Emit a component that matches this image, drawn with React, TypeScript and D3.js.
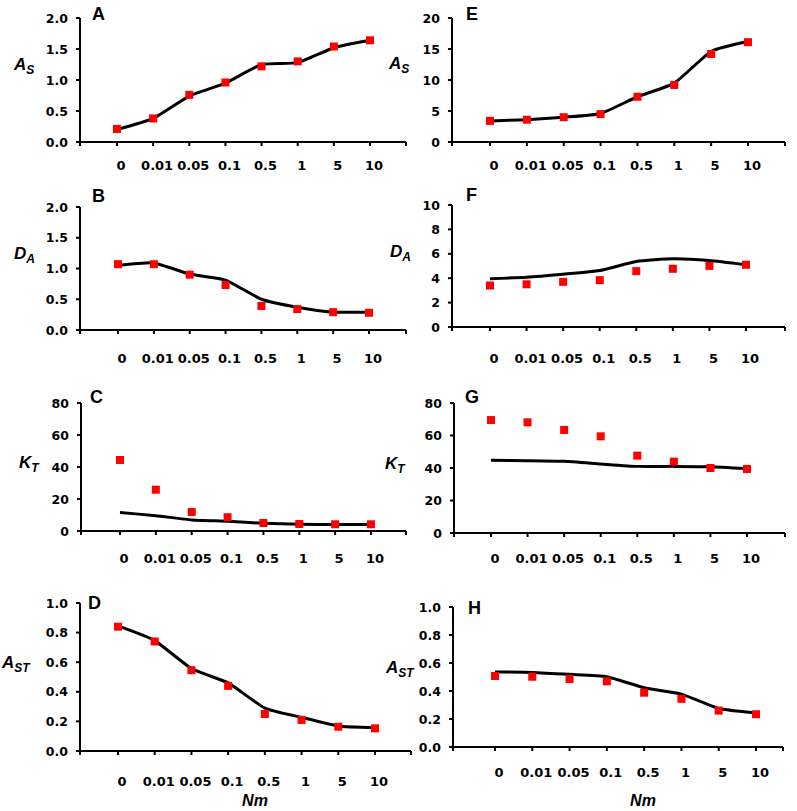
import React from "react";
import * as d3 from "d3";

const categories = ["0", "0.01", "0.05", "0.1", "0.5", "1", "5", "10"];

// Panel A (A_S, left)
const aSquares = [0.21, 0.38, 0.76, 0.96, 1.22, 1.3, 1.54, 1.64];
const aLine = [0.2, 0.38, 0.74, 0.95, 1.25, 1.28, 1.52, 1.64];
// Panel B (D_A, left)
const bSquares = [1.07, 1.07, 0.9, 0.73, 0.39, 0.34, 0.29, 0.28];
const bLine = [1.05, 1.09, 0.91, 0.81, 0.5, 0.37, 0.29, 0.29];
// Panel C (K_T, left)
const cSquares = [44.4, 25.8, 11.9, 8.6, 5.0, 4.4, 4.2, 4.2];
const cLine = [11.5, 9.6, 6.9, 6.1, 4.8, 4.2, 4.0, 4.0];
// Panel D (A_ST, left)
const dSquares = [0.84, 0.74, 0.546, 0.44, 0.25, 0.21, 0.164, 0.153];
const dLine = [0.845, 0.746, 0.557, 0.46, 0.29, 0.227, 0.169, 0.157];
// Panel E (A_S, right)
const eSquares = [3.4, 3.6, 4.0, 4.5, 7.3, 9.2, 14.2, 16.1];
const eLine = [3.4, 3.6, 4.0, 4.6, 7.3, 9.5, 14.6, 16.2];
// Panel F (D_A, right)
const fSquares = [3.4, 3.5, 3.7, 3.84, 4.58, 4.77, 5.01, 5.1];
const fLine = [3.95, 4.08, 4.33, 4.63, 5.37, 5.59, 5.45, 5.1];
// Panel G (K_T, right)
const gSquares = [69.5, 68.1, 63.4, 59.5, 47.6, 43.9, 40.0, 39.4];
const gLine = [44.7, 44.5, 44.1, 42.5, 41.0, 41.0, 40.8, 39.6];
// Panel H (A_ST, right)
const hSquares = [0.507, 0.502, 0.486, 0.469, 0.388, 0.344, 0.26, 0.234];
const hLine = [0.536, 0.533, 0.519, 0.502, 0.423, 0.378, 0.275, 0.244];

const ticks2 = [0, 0.5, 1.0, 1.5, 2.0];
const ticks20 = [0, 5, 10, 15, 20];
const ticks10 = [0, 2, 4, 6, 8, 10];
const ticks80 = [0, 20, 40, 60, 80];
const ticks1 = [0, 0.2, 0.4, 0.6, 0.8, 1.0];

type Panel = {
  letter: string;
  squares: number[];
  line: number[];
  ticks: number[];
  fmt: (v: number) => string;
  main: string;
  sub: string;
  ax: number;
  axEnd: number;
  x0: number;
  x1: number;
  yTop: number;
  y0: number;
  labY: number;
  letX: number;
  letY: number;
  ylX: number;
  ylY: number;
  nm?: [number, number];
};

const f1 = (v: number) => d3.format(".1f")(v);
const f0 = (v: number) => d3.format("d")(v);

const panels: Panel[] = [
  { letter: "A", squares: aSquares, line: aLine, ticks: ticks2, fmt: f1, main: "A", sub: "S",
    ax: 80, axEnd: 406, x0: 117, x1: 370, yTop: 18, y0: 142, labY: 170, letX: 92, letY: 20, ylX: 14, ylY: 70 },
  { letter: "B", squares: bSquares, line: bLine, ticks: ticks2, fmt: f1, main: "D", sub: "A",
    ax: 80, axEnd: 406, x0: 118, x1: 369, yTop: 207, y0: 330, labY: 363, letX: 92, letY: 202, ylX: 14, ylY: 259 },
  { letter: "C", squares: cSquares, line: cLine, ticks: ticks80, fmt: f0, main: "K", sub: "T",
    ax: 81, axEnd: 406, x0: 120, x1: 371, yTop: 403, y0: 531, labY: 563, letX: 90, letY: 403, ylX: 19, ylY: 468 },
  { letter: "D", squares: dSquares, line: dLine, ticks: ticks1, fmt: f1, main: "A", sub: "ST",
    ax: 80, axEnd: 411, x0: 118, x1: 375, yTop: 603, y0: 751, labY: 786, letX: 88, letY: 609, ylX: 2, ylY: 668, nm: [255, 806] },
  { letter: "E", squares: eSquares, line: eLine, ticks: ticks20, fmt: f0, main: "A", sub: "S",
    ax: 452, axEnd: 785, x0: 490, x1: 748, yTop: 18, y0: 142, labY: 170, letX: 466, letY: 20, ylX: 389, ylY: 69 },
  { letter: "F", squares: fSquares, line: fLine, ticks: ticks10, fmt: f0, main: "D", sub: "A",
    ax: 452, axEnd: 785, x0: 490, x1: 746, yTop: 205, y0: 327, labY: 363, letX: 466, letY: 201, ylX: 390, ylY: 257 },
  { letter: "G", squares: gSquares, line: gLine, ticks: ticks80, fmt: f0, main: "K", sub: "T",
    ax: 454, axEnd: 785, x0: 491, x1: 747, yTop: 403, y0: 533, labY: 563, letX: 465, letY: 403, ylX: 385, ylY: 469 },
  { letter: "H", squares: hSquares, line: hLine, ticks: ticks1, fmt: f1, main: "A", sub: "ST",
    ax: 453, axEnd: 783, x0: 495, x1: 756, yTop: 607, y0: 747, labY: 777, letX: 468, letY: 614, ylX: 386, ylY: 673, nm: [643, 806] },
];

const tickFont = "'DejaVu Sans', Verdana, sans-serif";
const labFont = "'Liberation Sans', Arial, sans-serif";

function PanelView({ p }: { p: Panel }) {
  const x = d3.scalePoint<string>().domain(categories).range([p.x0, p.x1]);
  const yMax = p.ticks[p.ticks.length - 1];
  const y = d3.scaleLinear().domain([0, yMax]).range([p.y0, p.yTop]);
  const lineGen = d3
    .line<number>()
    .x((_, i) => x(categories[i]) as number)
    .y((v) => y(v))
    .curve(d3.curveCardinal.tension(0.5));
  const sq = 8;
  return (
    <g>
      <line x1={p.ax} x2={p.ax} y1={p.y0} y2={p.yTop} stroke="#000" strokeWidth={2} />
      {p.ticks.map((t) => (
        <g key={t}>
          <line x1={p.ax - 4} x2={p.ax} y1={y(t)} y2={y(t)} stroke="#000" strokeWidth={2} />
          <text x={p.ax - 12} y={y(t)} dy="0.36em" textAnchor="end" fontFamily={tickFont}
            fontWeight="bold" fontSize={12.5} fill="#000">{p.fmt(t)}</text>
        </g>
      ))}
      <line x1={p.ax} x2={p.axEnd} y1={p.y0} y2={p.y0} stroke="#000" strokeWidth={2} />
      {[p.ax, p.axEnd].map((xx, i) => (
        <line key={"e" + i} x1={xx} x2={xx} y1={p.y0} y2={p.y0 + 4} stroke="#000" strokeWidth={2} />
      ))}
      {categories.map((c) => (
        <g key={c}>
          <line x1={x(c)} x2={x(c)} y1={p.y0} y2={p.y0 + 4} stroke="#000" strokeWidth={2} />
          <text x={(x(c) as number) + 4} y={p.labY} textAnchor="middle" fontFamily={tickFont}
            fontWeight="bold" fontSize={13} fill="#000">{c}</text>
        </g>
      ))}
      <path d={lineGen(p.line) || ""} fill="none" stroke="#000" strokeWidth={3} strokeLinejoin="round" />
      {p.squares.map((v, i) => (
        <rect key={i} x={(x(categories[i]) as number) - sq / 2} y={y(v) - sq / 2} width={sq} height={sq} fill="#ff0000" />
      ))}
      <text x={p.letX} y={p.letY} fontFamily={labFont} fontWeight="bold" fontSize={18} fill="#000">{p.letter}</text>
      <text x={p.ylX} y={p.ylY} fontFamily={labFont} fontWeight="bold" fontStyle="italic" fontSize={17} fill="#000">
        {p.main}
        <tspan dy={4} fontSize={12}>{p.sub}</tspan>
      </text>
      {p.nm && (
        <text x={p.nm[0]} y={p.nm[1]} textAnchor="middle" fontFamily={labFont} fontWeight="bold"
          fontStyle="italic" fontSize={16} fill="#000">Nm</text>
      )}
    </g>
  );
}

export default function App() {
  return (
    <svg width={797} height={811} style={{ position: "absolute", left: 0, top: 0, background: "#fff" }}>
      <rect width={797} height={811} fill="#fff" />
      {panels.map((p) => (
        <PanelView key={p.letter} p={p} />
      ))}
    </svg>
  );
}
